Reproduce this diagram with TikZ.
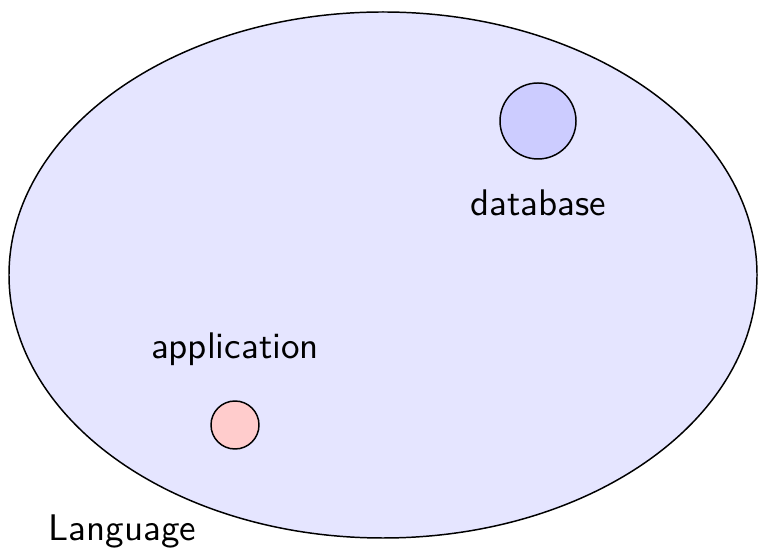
\documentclass[tikz,border=0pt]{standalone}
\usepackage{tikz}
\usetikzlibrary{positioning,calc}
\usetikzlibrary{shapes}
\tikzstyle{world} = [ellipse,thin,draw=black,fill=blue!10,minimum width=748*0.27pt,minimum height=526*0.27pt,inner sep=0pt]
\tikzstyle{store} = [circle,thin,draw=black,fill=blue!20,minimum size=76*0.27pt,inner sep=0pt]
\tikzstyle{app} = [circle,thin,draw=black,fill=red!20,minimum size=48*0.27pt,inner sep=0pt]
\tikzstyle{label} = [font=\sffamily,inner sep=0pt]

\begin{document}
\begin{tikzpicture}[x=0.27pt,y=-0.27pt]
        \useasboundingbox (0,0) rectangle (766,555);
        \node[world] (lang) at (383,275) {};
        \node[store] (db) at (538,121) {};
        \node[label,below=8pt of db] (db-text) {database};
        \node[app] (appl) at (235,425) {};
        \node[label,above=9pt of appl] (appl-text) {application};
        \node[label,anchor=west] (lang-text) at (48,531) {Language};
    \end{tikzpicture}
\end{document}
